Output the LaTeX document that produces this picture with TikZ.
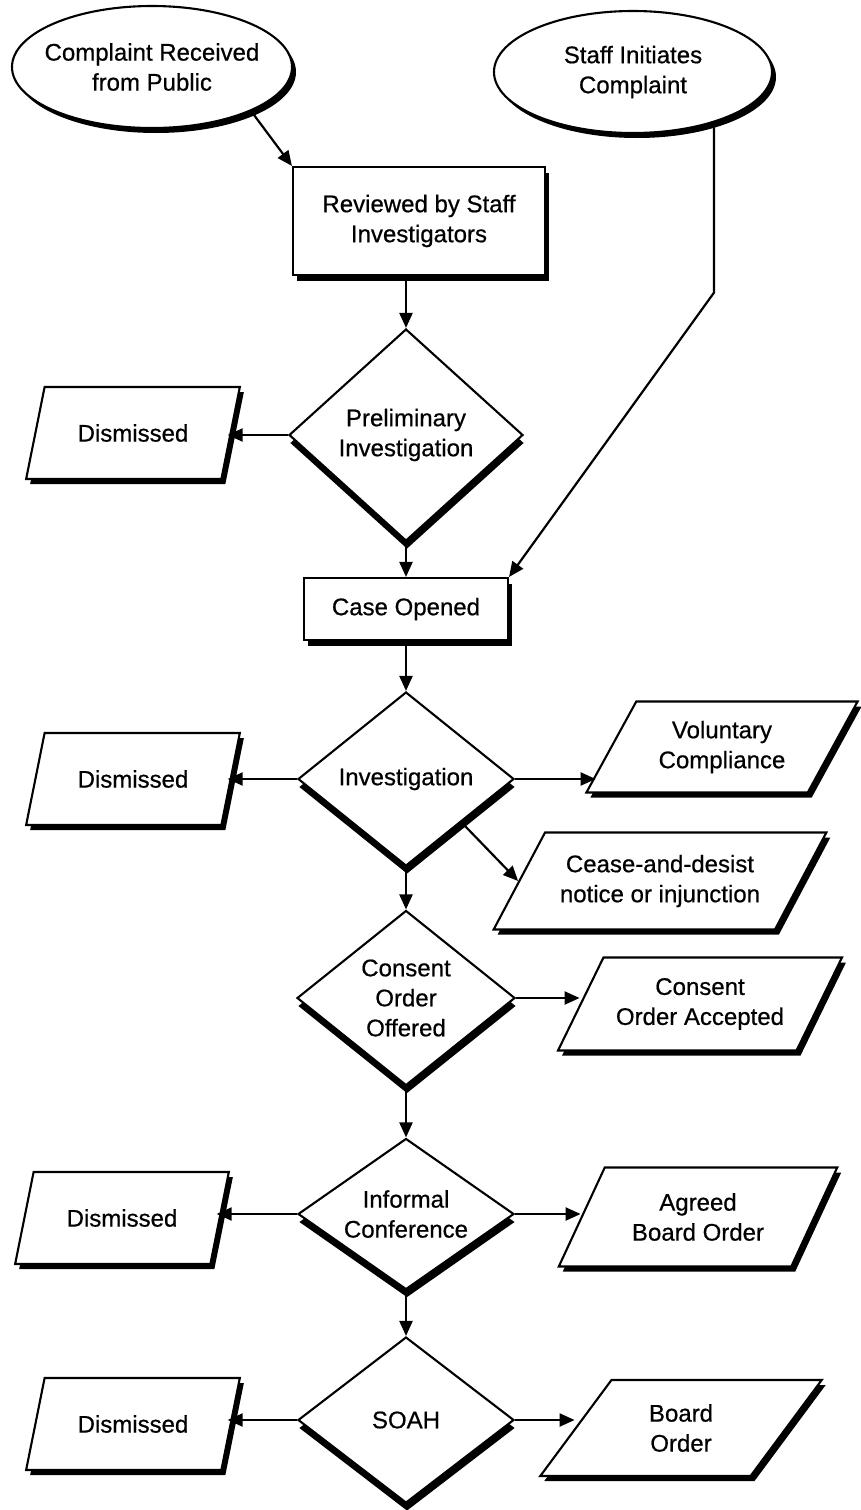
\documentclass[tikz,border=0pt]{standalone}
\usepackage{fontspec}
\setmainfont{Liberation Sans}[UprightFeatures={FakeBold=0.6}]
\usetikzlibrary{shapes.geometric, shadows, arrows.meta, calc}

\begin{document}
\begin{tikzpicture}[x=1pt, y=-1pt,
  base/.style={draw, fill=white, line width=2.1pt, align=center,
    font=\fontsize{24}{30}\selectfont, inner sep=2pt},
  shadeBR/.style={drop shadow={shadow xshift=4pt, shadow yshift=-5pt, opacity=1, fill=black}},
  startnode/.style={base, ellipse, inner xsep=-14pt, inner ysep=0pt,
    minimum width=280pt, minimum height=122pt, shadeBR},
  procbox/.style={base, rectangle,
    drop shadow={shadow xshift=4pt, shadow yshift=-6pt, opacity=1, fill=black}},
  decision/.style={base, diamond, inner sep=0pt, shape aspect=1.2,
    drop shadow={shadow xshift=1pt, shadow yshift=-8pt, opacity=1, fill=black}},
  outcome/.style={base, trapezium, trapezium stretches=true, minimum height=92pt,
    minimum width=214pt, trapezium left angle=61, trapezium right angle=119, shadeBR},
  arr/.style={draw, line width=2.2pt, -{Triangle[length=15pt, width=13pt]}},
  arrL/.style={arr, shorten >=-4pt}
]
\useasboundingbox (0,0) rectangle (860,1510);

% entry points
\node[startnode] (pub) at (152,67) {Complaint Received\\from Public};
\node[startnode, minimum width=278pt] (staff) at (633,72) {Staff Initiates\\Complaint};

% review and preliminary investigation
\node[procbox, minimum width=252pt, minimum height=108pt] (rev) at (419,221) {Reviewed by Staff\\Investigators};
\node[decision, minimum width=234pt, minimum height=212pt] (pre) at (406,435) {Preliminary\\Investigation};
\node[outcome] (dis1) at (133,433) {Dismissed};

% case and investigation
\node[procbox, minimum width=204pt, minimum height=62pt] (case) at (406,609) {Case Opened};
\node[decision, minimum width=216pt, minimum height=174pt] (inv) at (406,779) {Investigation};
\node[outcome] (dis2) at (133,779) {Dismissed};
\node[outcome, minimum width=272pt, minimum height=91pt,
  trapezium left angle=56, trapezium right angle=124] (vol) at (722,747) {Voluntary\\Compliance};
\node[outcome, minimum width=334pt, minimum height=97pt,
  trapezium left angle=51, trapezium right angle=129] (cease) at (660,881) {Cease-and-desist\\notice or injunction};

% consent order
\node[decision, minimum width=218pt, minimum height=175pt] (con) at (406,998) {Consent\\Order\\Offered};
\node[outcome, minimum width=285pt, minimum height=93pt,
  trapezium left angle=54, trapezium right angle=126] (cons) at (700,1004) {Consent\\Order Accepted};

% informal conference
\node[decision, minimum width=216pt, minimum height=146pt] (inf) at (406,1214) {Informal\\Conference};
\node[outcome] (dis3) at (122,1218) {Dismissed};
\node[outcome, minimum width=279pt, minimum height=99pt,
  trapezium left angle=57, trapezium right angle=123] (agr) at (698,1217) {Agreed\\Board Order};

% hearing
\node[decision, minimum width=216pt, minimum height=166pt] (soa) at (406,1420) {SOAH};
\node[outcome] (dis4) at (133,1424) {Dismissed};
\node[outcome, minimum width=282pt, minimum height=96pt,
  trapezium left angle=56, trapezium right angle=124] (bo) at (681,1428) {Board\\Order};

% connectors
\draw[arr] (pub.-24) -- (rev.north west);
\draw[arr] (pre.north |- rev.south) -- (pre.north);
\draw[arrL] (pre.west) -- (pre.west -| dis1.right side);
\draw[arr] (pre.south) -- (case.north);
\draw[arr] (staff.-32) -- ++(0,170) coordinate (bend) -- (case.north east);
\draw[arr] (case.south) -- (inv.north);
\draw[arrL] (inv.west) -- (inv.west -| dis2.right side);
\draw[arr] (inv.east) -- ($(inv.east -| vol.bottom left corner)+(11,0)$);
\draw[arr] (inv.-38) -- (cease.left side);
\draw[arr] (inv.south) -- (con.north);
\draw[arr] (con.east) -- (con.east -| cons.left side);
\draw[arr] (con.south) -- (inf.north);
\draw[arrL] (inf.west) -- (inf.west -| dis3.right side);
\draw[arr] (inf.east) -- (inf.east -| agr.left side);
\draw[arr] (inf.south) -- (soa.north);
\draw[arrL] (soa.west) -- (soa.west -| dis4.right side);
\draw[arr] (soa.east) -- (soa.east -| bo.left side);
\end{tikzpicture}
\end{document}
